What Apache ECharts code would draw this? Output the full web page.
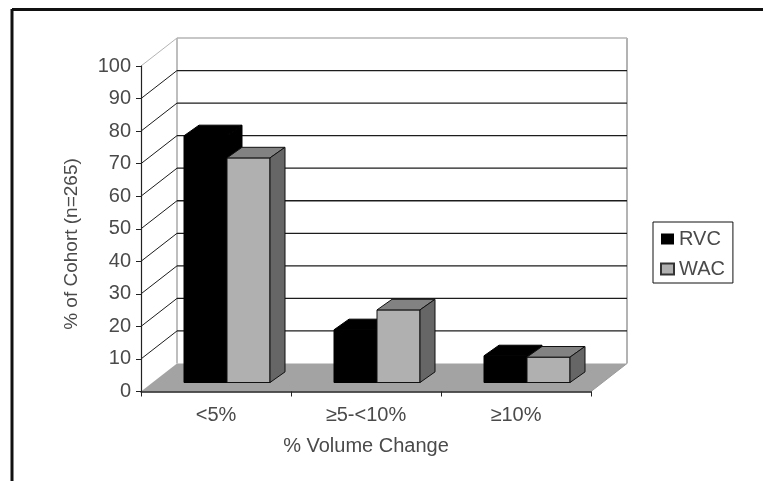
<!DOCTYPE html>
<html>
<head>
<meta charset="utf-8">
<title>Volume change</title>
<script src="https://cdn.jsdelivr.net/npm/echarts@6/dist/echarts.min.js"></script>
<style>
  html, body { margin: 0; padding: 0; background: #fff; }
  #chart { width: 763px; height: 481px; }
</style>
</head>
<body>
<div id="chart"></div>
<script>
  const categories = ['<5%', '≥5-<10%', '≥10%']
  const rvcValues = [75.8, 16.2, 8.2]
  const wacValues = [69, 22.3, 7.8]
  const yTicks = [0, 10, 20, 30, 40, 50, 60, 70, 80, 90, 100]

  // fake 3d: pixel offsets of the back wall and of the bars' depth band
  const WALL = [36, -28]
  const BAR_FRONT = [11, -9]
  const BAR_BACK = [26, -19.6]
  const BAR_W = 43
  const GROUP_W = 86

  function shift(p, off) {
    return [p[0] + off[0], p[1] + off[1]]
  }

  function poly(points, fill, stroke) {
    return {
      type: 'polygon',
      shape: { points: points },
      style: { fill: fill, stroke: stroke, lineWidth: 1 }
    }
  }

  function line(a, b, color, width) {
    return {
      type: 'line',
      shape: { x1: a[0], y1: a[1], x2: b[0], y2: b[1] },
      style: { stroke: color, lineWidth: width, fill: null }
    }
  }

  function renderWalls(params, api) {
    const band = api.size([1, 0])[0]
    const v = api.value(1)
    const left = api.coord([0, v])
    left[0] -= band / 2
    const right = [left[0] + band * categories.length, left[1]]
    const children = []
    if (v === 0) {
      children.push(poly([left, right, shift(right, WALL), shift(left, WALL)], '#a3a3a3', null))
      children.push(line(right, shift(right, WALL), '#9a9a9a', 1))
      const topL = api.coord([0, 100])
      topL[0] -= band / 2
      const topR = [topL[0] + band * categories.length, topL[1]]
      children.push(line(shift(left, WALL), shift(topL, WALL), '#a8a8a8', 1.5))
      children.push(line(shift(right, WALL), shift(topR, WALL), '#9a9a9a', 1.5))
    } else {
      const color = v === 100 ? '#b4b4b4' : '#1c1c1c'
      children.push(line(left, shift(left, WALL), color, 1))
      children.push(line(shift(left, WALL), shift(right, WALL), color, v === 100 ? 1.5 : 1.3))
    }
    return { type: 'group', children: children }
  }

  function barRenderer(offsetIndex, front, top, side, stroke) {
    return function (params, api) {
      const base = api.coord([api.value(0), 0])
      const head = api.coord([api.value(0), api.value(1)])
      const x0 = base[0] - GROUP_W / 2 + offsetIndex * BAR_W
      const x1 = x0 + BAR_W
      const fb0 = shift([x0, base[1]], BAR_FRONT)
      const fb1 = shift([x1, base[1]], BAR_FRONT)
      const ft0 = shift([x0, head[1]], BAR_FRONT)
      const ft1 = shift([x1, head[1]], BAR_FRONT)
      const bt0 = shift([x0, head[1]], BAR_BACK)
      const bt1 = shift([x1, head[1]], BAR_BACK)
      const bb1 = shift([x1, base[1]], BAR_BACK)
      return {
        type: 'group',
        children: [
          poly([fb0, fb1, ft1, ft0], front, stroke),
          poly([ft0, ft1, bt1, bt0], top, stroke),
          poly([fb1, bb1, bt1, ft1], side, stroke)
        ]
      }
    }
  }

  let myChart = echarts.init(document.getElementById('chart'))
  myChart.setOption({
    animation: false,
    backgroundColor: '#fff',
    textStyle: { fontFamily: '"Liberation Sans", Arial, sans-serif' },
    grid: { left: 141, right: 172, top: 66, bottom: 89.5 },
    graphic: [
      {
        type: 'line',
        shape: { x1: 12, y1: 9.5, x2: 763, y2: 9.5 },
        style: { stroke: '#111', lineWidth: 3 }
      },
      {
        type: 'line',
        shape: { x1: 12, y1: 9, x2: 12, y2: 481 },
        style: { stroke: '#111', lineWidth: 3 }
      },
      {
        type: 'text',
        x: 72,
        y: 244,
        rotation: Math.PI / 2,
        style: {
          text: '% of Cohort (n=265)',
          fill: '#4a4a4a',
          font: '19px "Liberation Sans", Arial, sans-serif',
          textAlign: 'center',
          textVerticalAlign: 'middle'
        }
      }
    ],
    legend: {
      data: ['RVC', 'WAC'],
      orient: 'vertical',
      left: 653,
      top: 222,
      padding: [7, 8, 4, 7],
      itemGap: 10,
      itemWidth: 13,
      itemHeight: 11,
      icon: 'rect',
      borderColor: '#111',
      borderWidth: 1,
      selectedMode: false,
      textStyle: { color: '#4a4a4a', fontSize: 20, lineHeight: 20 }
    },
    xAxis: {
      type: 'category',
      data: categories,
      name: '% Volume Change',
      nameLocation: 'middle',
      nameGap: 45,
      nameTextStyle: { color: '#4a4a4a', fontSize: 20 },
      z: 5,
      axisLine: { lineStyle: { color: '#222', width: 1.5 } },
      axisTick: { show: true, length: 5, lineStyle: { color: '#222' } },
      axisLabel: { color: '#4a4a4a', fontSize: 20, margin: 14 }
    },
    yAxis: {
      type: 'value',
      min: 0,
      max: 100,
      interval: 10,
      z: 5,
      axisLine: { show: true, lineStyle: { color: '#222', width: 1.2 } },
      axisTick: { show: true, length: 5, lineStyle: { color: '#222' } },
      axisLabel: { color: '#4a4a4a', fontSize: 20, margin: 10 },
      splitLine: { show: false }
    },
    series: [
      {
        type: 'custom',
        silent: true,
        z: 1,
        renderItem: renderWalls,
        data: yTicks.map(t => [0, t]),
        encode: { x: 0, y: 1 }
      },
      {
        name: 'RVC',
        type: 'custom',
        z: 2,
        itemStyle: { color: '#000', borderColor: '#000' },
        renderItem: barRenderer(0, '#000', '#000', '#000', '#000'),
        data: rvcValues.map((v, i) => [i, v]),
        encode: { x: 0, y: 1 }
      },
      {
        name: 'WAC',
        type: 'custom',
        z: 3,
        itemStyle: { color: '#b0b0b0', borderColor: '#333', borderWidth: 1 },
        renderItem: barRenderer(1, '#b0b0b0', '#828282', '#666', '#111'),
        data: wacValues.map((v, i) => [i, v]),
        encode: { x: 0, y: 1 }
      }
    ]
  })
</script>
</body>
</html>
